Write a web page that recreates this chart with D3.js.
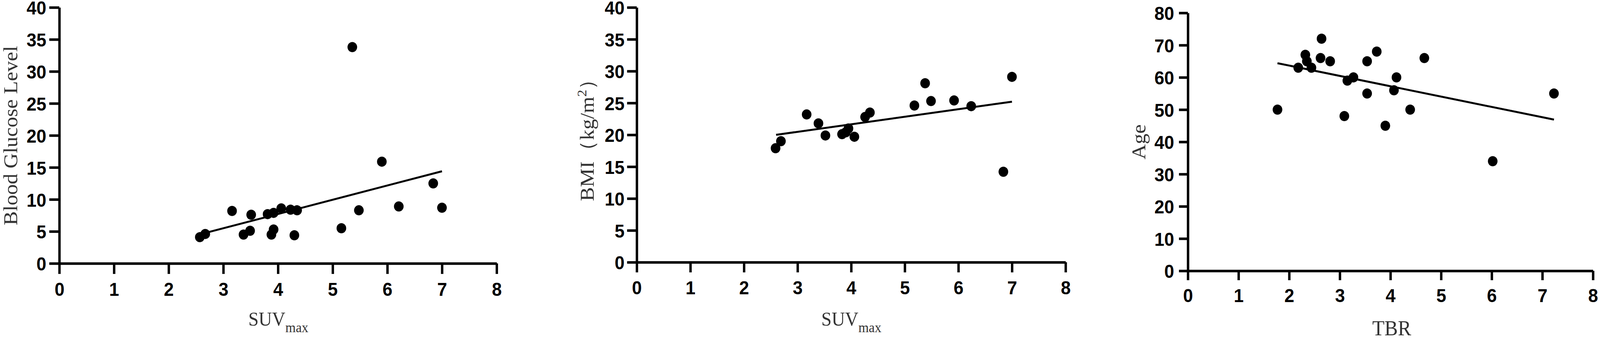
<!DOCTYPE html>
<html lang="en">
  <head>
    <meta charset="UTF-8" />
    <title>SUVmax / TBR correlations</title>
    <script src="https://d3js.org/d3.v7.min.js"></script>
    <style>
      html,
      body {
        margin: 0;
        padding: 0;
        overflow: hidden;
        background-color: #fff;
      }
      svg {
        display: block;
        width: 100vw;
        height: 100vh;
      }
      .axis path,
      .axis line {
        stroke: #000;
        stroke-width: 6.5px;
      }
      .axis text {
        font-family: "Liberation Sans", Arial, sans-serif;
        font-weight: bold;
        font-size: 48px;
        fill: #000;
      }
      .axis-title {
        font-family: "Liberation Serif", "Times New Roman", serif;
        font-size: 54px;
        fill: #333;
      }
      .fit {
        fill: none;
        stroke: #000;
        stroke-width: 5px;
      }
      .dot {
        fill: #000;
      }
    </style>
  </head>
  <body>
    <svg id="chart"></svg>

    <script>
      // Panel 1: SUVmax vs blood glucose
      const suvGlucose = [2.57, 2.67, 3.16, 3.37, 3.49, 3.51, 3.81, 3.88, 3.92, 3.92, 4.06,
                          4.23, 4.35, 4.30, 5.16, 5.36, 5.48, 5.90, 6.21, 6.84, 7.0];
      const glucose = [4.1, 4.6, 8.2, 4.5, 5.1, 7.6, 7.7, 4.5, 5.3, 7.9, 8.6,
                       8.4, 8.3, 4.4, 5.5, 33.8, 8.3, 15.9, 8.9, 12.5, 8.7];
      const fitGlucoseX = [2.6, 7.0];
      const fitGlucoseY = [4.6, 14.4];

      // Panel 2: SUVmax vs BMI
      const suvBmi = [2.59, 2.69, 3.17, 3.39, 3.52, 3.83, 3.90, 3.95, 4.06, 4.26, 4.35,
                      5.18, 5.38, 5.49, 5.92, 6.24, 6.84, 7.0];
      const bmi = [17.9, 19.0, 23.2, 21.8, 19.9, 20.1, 20.4, 21.0, 19.7, 22.8, 23.5,
                   24.6, 28.1, 25.3, 25.4, 24.5, 14.2, 29.1];
      const fitBmiX = [2.6, 7.0];
      const fitBmiY = [20.0, 25.2];

      // Panel 3: TBR vs age
      const tbr = [1.77, 2.18, 2.32, 2.35, 2.44, 2.62, 2.64, 2.81, 3.09, 3.15, 3.27,
                   3.54, 3.54, 3.73, 3.90, 4.07, 4.12, 4.39, 4.67, 6.02, 7.23];
      const age = [50, 63, 67, 65, 63, 66, 72, 65, 48, 59, 60,
                   55, 65, 68, 45, 56, 60, 50, 66, 34, 55];
      const fitAgeX = [1.77, 7.23];
      const fitAgeY = [64.4, 46.9];

      const xTicks = [0, 1, 2, 3, 4, 5, 6, 7, 8];
      const yTicks40 = [0, 5, 10, 15, 20, 25, 30, 35, 40];
      const yTicks80 = [0, 10, 20, 30, 40, 50, 60, 70, 80];

      const width = 4317;
      const height = 870;

      // viewBox keeps the drawing at 4317x870 whatever the real viewport is
      const svg = d3
        .select("#chart")
        .attr("viewBox", `0 0 ${width} ${height}`)
        .attr("preserveAspectRatio", "none");

      const panels = [
        {
          xs: suvGlucose, ys: glucose, fitX: fitGlucoseX, fitY: fitGlucoseY,
          xDomain: [0, 8], yDomain: [0, 40], yTicks: yTicks40,
          xRange: [160, 1340], yRange: [674, 19],
          yTitle: "Blood Glucose Level", yTitlePos: [46, 347],
          xTitle: "SUV", xSub: "max", xTitlePos: [751, 833],
          tick: 27, yPad: 8
        },
        {
          xs: suvBmi, ys: bmi, fitX: fitBmiX, fitY: fitBmiY,
          xDomain: [0, 8], yDomain: [0, 40], yTicks: yTicks40,
          xRange: [1718, 2875], yRange: [671, 19],
          yTitle: "BMI", yTitlePos: [1602, 345], bmi: true,
          xTitle: "SUV", xSub: "max", xTitlePos: [2297, 833],
          tick: 26, yPad: 7
        },
        {
          xs: tbr, ys: age, fitX: fitAgeX, fitY: fitAgeY,
          xDomain: [0, 8], yDomain: [0, 80], yTicks: yTicks80,
          xRange: [3205, 4298], yRange: [693, 33],
          yTitle: "Age", yTitlePos: [3090, 363],
          xTitle: "TBR", xSub: null, xTitlePos: [3755, 858],
          tick: 24, yPad: 13
        }
      ];

      panels.forEach((p) => {
        const x = d3.scaleLinear().domain(p.xDomain).range(p.xRange);
        const y = d3.scaleLinear().domain(p.yDomain).range(p.yRange);
        const g = svg.append("g");

        // X axis
        g.append("g")
          .attr("class", "axis")
          .attr("transform", `translate(0, ${y(0)})`)
          .call(
            d3.axisBottom(x)
              .tickValues(xTicks)
              .tickSize(p.tick)
              .tickSizeOuter(0)
              .tickPadding(22)
              .tickFormat(d3.format("d"))
          );

        // Y axis
        const yAxis = g.append("g")
          .attr("class", "axis")
          .attr("transform", `translate(${x(0)}, 0)`)
          .call(
            d3.axisLeft(y)
              .tickValues(p.yTicks)
              .tickSize(p.tick)
              .tickSizeOuter(0)
              .tickPadding(p.yPad)
              .tickFormat(d3.format("d"))
          );
        yAxis.selectAll("text").attr("dy", "0.37em");

        g.selectAll(".axis text").attr("font-size", null).attr("font-family", null);

        // Regression line
        const line = d3.line().x((d) => x(d[0])).y((d) => y(d[1]));
        g.append("path")
          .datum(p.fitX.map((v, i) => [v, p.fitY[i]]))
          .attr("class", "fit")
          .attr("d", line);

        // Points
        g.selectAll(".dot")
          .data(p.xs.map((v, i) => [v, p.ys[i]]))
          .enter()
          .append("circle")
          .attr("class", "dot")
          .attr("cx", (d) => x(d[0]))
          .attr("cy", (d) => y(d[1]))
          .attr("r", 13);

        // Y axis title
        const yt = g.append("text")
          .attr("class", "axis-title")
          .attr("text-anchor", "middle")
          .attr("transform", `translate(${p.yTitlePos[0]}, ${p.yTitlePos[1]}) rotate(-90)`);
        if (p.bmi) {
          yt.append("tspan").text("BMI（kg/m");
          yt.append("tspan").attr("dy", -20).attr("font-size", 36).text("2");
          yt.append("tspan").attr("dy", 20).text("）");
        } else {
          yt.text(p.yTitle);
        }

        // X axis title
        const xt = g.append("text")
          .attr("class", "axis-title")
          .attr("text-anchor", "middle")
          .attr("x", p.xTitlePos[0])
          .attr("y", p.xTitlePos[1]);
        xt.append("tspan").attr("font-size", p.xSub ? 50 : 54).text(p.xTitle);
        if (p.xSub) {
          xt.append("tspan").attr("dy", 17).attr("font-size", 36).text(p.xSub);
        }
      });
    </script>
  </body>
</html>
